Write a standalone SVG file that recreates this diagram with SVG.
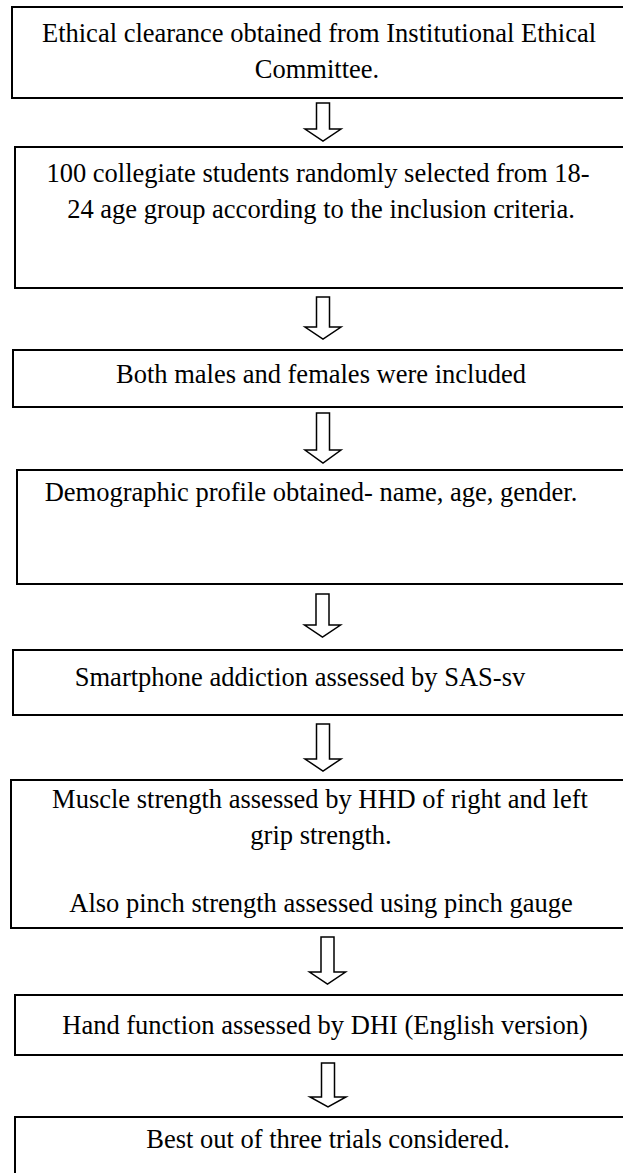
<svg xmlns="http://www.w3.org/2000/svg" width="623" height="1173" viewBox="0 0 623 1173">
<style>
.box{fill:#fff;stroke:#000;stroke-width:2}
.arr{fill:#fff;stroke:#000;stroke-width:1.5;stroke-linejoin:miter}
.t{font-family:"Liberation Serif","Times New Roman",serif;font-size:26.5px;fill:#000;text-anchor:middle}
</style>
<rect x="0" y="0" width="623" height="1173" fill="#fff"/>
<g id="connectors">
<path class="arr" d="M316.5,103 H329.5 V129 H341 L323,141 L305,129 H316.5 Z"/>
<path class="arr" d="M316.5,297 H329.5 V327 H341 L323,339 L305,327 H316.5 Z"/>
<path class="arr" d="M316.5,413 H329.5 V450 H341 L323,463 L305,450 H316.5 Z"/>
<path class="arr" d="M316,594 H329 V625 H340.5 L322.5,637 L304.5,625 H316 Z"/>
<path class="arr" d="M316.5,724 H329.5 V759 H341 L323,771 L305,759 H316.5 Z"/>
<path class="arr" d="M321,937 H334 V972 H345.5 L327.5,984 L309.5,972 H321 Z"/>
<path class="arr" d="M321.5,1063 H334.5 V1097 H346 L328,1107 L310,1097 H321.5 Z"/>
</g>
<g id="n1"><rect class="box" x="12" y="7" width="640" height="91"/>
<text class="t" x="319" y="42">Ethical clearance obtained from Institutional Ethical</text>
<text class="t" x="317" y="78">Committee.</text></g>
<g id="n2"><rect class="box" x="15" y="147" width="640" height="141"/>
<text class="t" x="318" y="182">100 collegiate students randomly selected from 18-</text>
<text class="t" x="321" y="218">24 age group according to the inclusion criteria.</text></g>
<g id="n3"><rect class="box" x="13" y="350" width="640" height="57"/>
<text class="t" x="321" y="383">Both males and females were included</text></g>
<g id="n4"><rect class="box" x="17" y="470" width="640" height="114"/>
<text class="t" x="311" y="501">Demographic profile obtained- name, age, gender.</text></g>
<g id="n5"><rect class="box" x="13" y="650" width="640" height="65"/>
<text class="t" x="300" y="686">Smartphone addiction assessed by SAS-sv</text></g>
<g id="n6"><rect class="box" x="11" y="780" width="640" height="148"/>
<text class="t" x="320" y="808">Muscle strength assessed by HHD of right and left</text>
<text class="t" x="321" y="844">grip strength.</text>
<text class="t" x="321" y="912">Also pinch strength assessed using pinch gauge</text></g>
<g id="n7"><rect class="box" x="15" y="995" width="640" height="60"/>
<text class="t" x="325" y="1034">Hand function assessed by DHI (English version)</text></g>
<g id="n8"><rect class="box" x="15" y="1117" width="640" height="70"/>
<text class="t" x="328" y="1148">Best out of three trials considered.</text></g>
</svg>
